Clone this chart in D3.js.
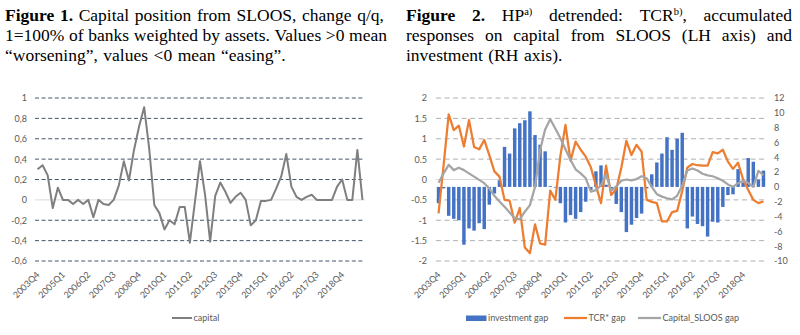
<!DOCTYPE html>
<html><head><meta charset="utf-8">
<script src="https://cdn.jsdelivr.net/npm/d3@7"></script>
<style>body{margin:0;background:#fff}svg{display:block}</style>
</head><body>
<svg id="c" width="800" height="335"></svg>
<script>
const categories = ["2003Q4","2004Q1","2004Q2","2004Q3","2004Q4","2005Q1","2005Q2","2005Q3","2005Q4","2006Q1","2006Q2","2006Q3","2006Q4","2007Q1","2007Q2","2007Q3","2007Q4","2008Q1","2008Q2","2008Q3","2008Q4","2009Q1","2009Q2","2009Q3","2009Q4","2010Q1","2010Q2","2010Q3","2010Q4","2011Q1","2011Q2","2011Q3","2011Q4","2012Q1","2012Q2","2012Q3","2012Q4","2013Q1","2013Q2","2013Q3","2013Q4","2014Q1","2014Q2","2014Q3","2014Q4","2015Q1","2015Q2","2015Q3","2015Q4","2016Q1","2016Q2","2016Q3","2016Q4","2017Q1","2017Q2","2017Q3","2017Q4","2018Q1","2018Q2","2018Q3","2018Q4","2019Q1","2019Q2","2019Q3","2019Q4"];
const tickLabels = ["2003Q4","2005Q1","2006Q2","2007Q3","2008Q4","2010Q1","2011Q2","2012Q3","2013Q4","2015Q1","2016Q2","2017Q3","2018Q4"];

// Figure 1
const capital = [0.3,0.34,0.24,-0.08,0.12,0,0,-0.04,0,-0.04,0,-0.17,0,-0.04,-0.05,0,0.14,0.38,0.19,0.49,0.72,0.91,0.5,-0.05,-0.13,-0.29,-0.2,-0.24,-0.07,-0.07,-0.42,-0.02,0.38,0.05,-0.41,0.04,0.17,0.08,-0.03,0.03,0.07,0,-0.25,-0.2,-0.01,-0.01,0,0.11,0.23,0.45,0.13,0.03,0,0.03,0.05,0,0,0,0,0.13,0.2,0,0,0.49,0];
const leftTicks = [1,0.8,0.6,0.4,0.2,0,-0.2,-0.4,-0.6];

// Figure 2
const investmentGap = [-2.2,-0.2,-3.9,-4.3,-4.5,-7.8,-5.6,-5.9,-4.9,-5.7,-2.4,-0.9,0.9,5.4,4.5,7.9,8.6,9.0,10.2,7.0,5.7,4.8,0.1,-0.1,-2.2,-4.8,-3.8,-4.3,-3.4,-2.0,-0.4,2.1,2.9,0.3,-0.5,-2.3,-3.4,-6.1,-5.1,-4.2,-3.6,-0.2,1.7,3.3,4.5,6.7,5.0,6.5,7.3,-5.6,-4.0,-5.0,-5.3,-6.7,-4.7,-4.8,-2.7,-1.1,-1.0,2.4,0.6,3.9,3.4,1.0,2.2];
const tcrGap = [-0.83,0.35,1.6,1.21,1.32,0.81,1.46,0.8,0.74,0.97,0.6,0.2,0.07,-0.5,-0.52,-1.06,-0.7,-1.67,-1.81,-1.1,-1.57,-1.6,-0.27,-0.5,0.58,1.34,0.46,0.93,0.73,0.56,0.3,-0.15,-0.58,0.34,-0.38,-0.24,0.29,0.95,0.6,0.85,0.68,-0.5,-0.55,-0.58,-1.03,-1.03,-0.8,-0.77,-0.28,0.29,0.38,0.35,0.34,0.34,0.67,0.64,0.73,0.44,0.26,0.41,0.0,-0.26,-0.5,-0.58,-0.54];
const capitalSloosGap = [-0.08,0.15,0.36,0.23,0.29,0.23,0.15,0.07,-0.01,-0.09,-0.22,-0.4,-0.54,-0.67,-0.81,-0.95,-0.98,-0.79,-0.63,-0.18,0.72,1.23,1.48,1.25,1.01,0.74,0.48,0.25,0.15,0.03,-0.3,-0.26,-0.14,0.12,-0.27,-0.17,-0.03,0.0,-0.02,0.01,0.08,0.03,-0.18,-0.36,-0.42,-0.46,-0.49,-0.4,-0.15,0.22,0.27,0.22,0.14,0.1,0.08,0.03,-0.03,-0.12,-0.18,-0.09,-0.03,-0.08,-0.18,0.21,0.11];
const lhTicks = [2,1.5,1,0.5,0,-0.5,-1,-1.5,-2];
const rhTicks = [12,10,8,6,4,2,0,-2,-4,-6,-8,-10];

const svg = d3.select("#c");
const labelFont = "Lato, 'Open Sans', sans-serif";
const serif = "'Liberation Serif', 'Times New Roman', serif";
const labelColor = "#595959";

// ---------- Titles (justified) ----------
function drawLine(x0, width, baseline, words, justify) {
  const g = svg.append("g").attr("font-family", serif).attr("font-size", 17.5).attr("fill", "#000");
  const nodes = words.map(w => {
    const t = g.append("text").attr("y", baseline);
    let raised = false;
    w.forEach(seg => {
      const ts = t.append("tspan").text(seg[0]);
      const st = seg[1] || "";
      if (st.includes("b")) ts.attr("font-weight", "bold");
      if (st.includes("s")) { ts.attr("font-size", 10.5).attr("dy", -6); raised = true; }
      else if (raised) { ts.attr("dy", 6); raised = false; }
    });
    return t;
  });
  const widths = nodes.map(n => n.node().getComputedTextLength());
  const total = d3.sum(widths);
  const gap = justify ? (width - total) / (nodes.length - 1) : 5.5;
  let x = x0;
  nodes.forEach((n, i) => { n.attr("x", x); x += widths[i] + gap; });
}
const W = s => s.split(" ").map(w => [[w]]);
drawLine(5, 379, 20.5, [[["Figure","b"]],[["1.","b"]]].concat(W("Capital position from SLOOS, change q/q,")), true);
drawLine(5, 382, 40.5, W("1=100% of banks weighted by assets. Values >0 mean"), true);
drawLine(5, 380, 60.5, W("\u201cworsening\u201d, values <0 mean \u201ceasing\u201d."), false);

drawLine(406, 386, 20.5, [[["Figure","b"]],[["2.","b"]],[["HP"],["a)","s"]],[["detrended:"]],[["TCR"],["b)","s"],[","]],[["accumulated"]]], true);
drawLine(406, 386, 40.5, W("responses on capital from SLOOS (LH axis) and"), true);
drawLine(406, 386, 60.5, W("investment (RH axis)."), false);

// ---------- Figure 1 ----------
const xL = d3.scaleBand().domain(categories).range([35, 365]);
const cxL = c => xL(c) + xL.bandwidth() / 2;
const yL = d3.scaleLinear().domain([-0.6, 1]).range([261, 98]);

const gL = svg.append("g");
gL.selectAll("line.grid").data(leftTicks.filter(d => d !== 0)).join("line")
  .attr("x1", 35).attr("x2", 365).attr("y1", d => yL(d)).attr("y2", d => yL(d))
  .attr("stroke", "#44546A").attr("stroke-width", 1).attr("stroke-dasharray", "4,2.6");
gL.append("line").attr("x1", 35).attr("x2", 365).attr("y1", yL(0)).attr("y2", yL(0))
  .attr("stroke", "#D9D9D9").attr("stroke-width", 1);

const axL = gL.append("g").attr("transform", "translate(35,0)")
  .call(d3.axisLeft(yL).tickValues(leftTicks).tickSize(0).tickPadding(8)
    .tickFormat(d => String(d).replace(".", ",")));
axL.select(".domain").remove();
axL.selectAll("text").attr("font-family", labelFont).attr("font-size", 9).attr("fill", labelColor);

const axLB = gL.append("g").attr("transform", "translate(0,261)")
  .call(d3.axisBottom(d3.scalePoint().domain(categories).range([cxL(categories[0]), cxL(categories[categories.length-1])]))
    .tickValues(tickLabels).tickSize(0));
axLB.select(".domain").remove();
axLB.selectAll("text").attr("font-family", labelFont).attr("font-size", 9).attr("fill", labelColor)
  .attr("y", 0).attr("dy", "0.35em").attr("text-anchor", "end")
  .attr("transform", "translate(0,12) rotate(-45)");

gL.append("path").datum(capital)
  .attr("d", d3.line().x((d, i) => cxL(categories[i])).y(d => yL(d)))
  .attr("fill", "none").attr("stroke", "#7F7F7F").attr("stroke-width", 2).attr("stroke-linejoin", "round");

// legend
gL.append("line").attr("x1", 172).attr("x2", 192).attr("y1", 318).attr("y2", 318)
  .attr("stroke", "#7F7F7F").attr("stroke-width", 2);
gL.append("text").attr("x", 193.5).attr("y", 318).attr("dy", "0.35em").text("capital")
  .attr("font-family", labelFont).attr("font-size", 9).attr("fill", labelColor);

// ---------- Figure 2 ----------
const xR = d3.scaleBand().domain(categories).range([436, 766]);
const cxR = c => xR(c) + xR.bandwidth() / 2;
const yLH = d3.scaleLinear().domain([-2, 2]).range([261, 98]);
const yRH = d3.scaleLinear().domain([-10, 12]).range([261, 98]);

const gR = svg.append("g");
gR.selectAll("line.grid").data(lhTicks.filter(d => d !== 0)).join("line")
  .attr("x1", 436).attr("x2", 766).attr("y1", d => yLH(d)).attr("y2", d => yLH(d))
  .attr("stroke", "#B0B0B0").attr("stroke-width", 1).attr("stroke-dasharray", "5,3.5");
gR.append("line").attr("x1", 436).attr("x2", 766).attr("y1", yLH(0)).attr("y2", yLH(0))
  .attr("stroke", "#D9D9D9").attr("stroke-width", 1);

const axRL = gR.append("g").attr("transform", "translate(436,0)")
  .call(d3.axisLeft(yLH).tickValues(lhTicks).tickSize(0).tickPadding(9).tickFormat(d => String(d)));
axRL.select(".domain").remove();
axRL.selectAll("text").attr("font-family", labelFont).attr("font-size", 9).attr("fill", labelColor);

const axRR = gR.append("g").attr("transform", "translate(766,0)")
  .call(d3.axisRight(yRH).tickValues(rhTicks).tickSize(0).tickPadding(8).tickFormat(d => String(d)));
axRR.select(".domain").remove();
axRR.selectAll("text").attr("font-family", labelFont).attr("font-size", 9).attr("fill", labelColor);

const axRB = gR.append("g").attr("transform", "translate(0,261)")
  .call(d3.axisBottom(d3.scalePoint().domain(categories).range([cxR(categories[0]), cxR(categories[categories.length-1])]))
    .tickValues(tickLabels).tickSize(0));
axRB.select(".domain").remove();
axRB.selectAll("text").attr("font-family", labelFont).attr("font-size", 9).attr("fill", labelColor)
  .attr("y", 0).attr("dy", "0.35em").attr("text-anchor", "end")
  .attr("transform", "translate(0,12) rotate(-45)");

const bw = xR.bandwidth() * 0.68;
gR.selectAll("rect.bar").data(investmentGap).join("rect")
  .attr("x", (d, i) => cxR(categories[i]) - bw / 2).attr("width", bw)
  .attr("y", d => Math.min(yRH(d), yRH(0))).attr("height", d => Math.abs(yRH(d) - yRH(0)))
  .attr("fill", "#4472C4");

const lineR = d3.line().x((d, i) => cxR(categories[i])).y(d => yLH(d));
gR.append("path").datum(tcrGap).attr("d", lineR)
  .attr("fill", "none").attr("stroke", "#ED7D31").attr("stroke-width", 2.25).attr("stroke-linejoin", "round");
gR.append("path").datum(capitalSloosGap).attr("d", lineR)
  .attr("fill", "none").attr("stroke", "#A5A5A5").attr("stroke-width", 2.25).attr("stroke-linejoin", "round");

// legend
const lg = gR.append("g").attr("font-family", labelFont).attr("font-size", 9).attr("fill", labelColor);
lg.append("rect").attr("x", 466).attr("y", 315.5).attr("width", 20.5).attr("height", 5.5).attr("fill", "#4472C4");
lg.append("text").attr("x", 488).attr("y", 318).attr("dy", "0.35em").text("investment gap");
lg.append("line").attr("x1", 564).attr("x2", 587).attr("y1", 318).attr("y2", 318).attr("stroke", "#ED7D31").attr("stroke-width", 2.25);
lg.append("text").attr("x", 588.5).attr("y", 318).attr("dy", "0.35em").text("TCR* gap");
lg.append("line").attr("x1", 638).attr("x2", 661).attr("y1", 318).attr("y2", 318).attr("stroke", "#A5A5A5").attr("stroke-width", 2.25);
lg.append("text").attr("x", 662.5).attr("y", 318).attr("dy", "0.35em").text("Capital_SLOOS gap");
</script>
</body></html>
